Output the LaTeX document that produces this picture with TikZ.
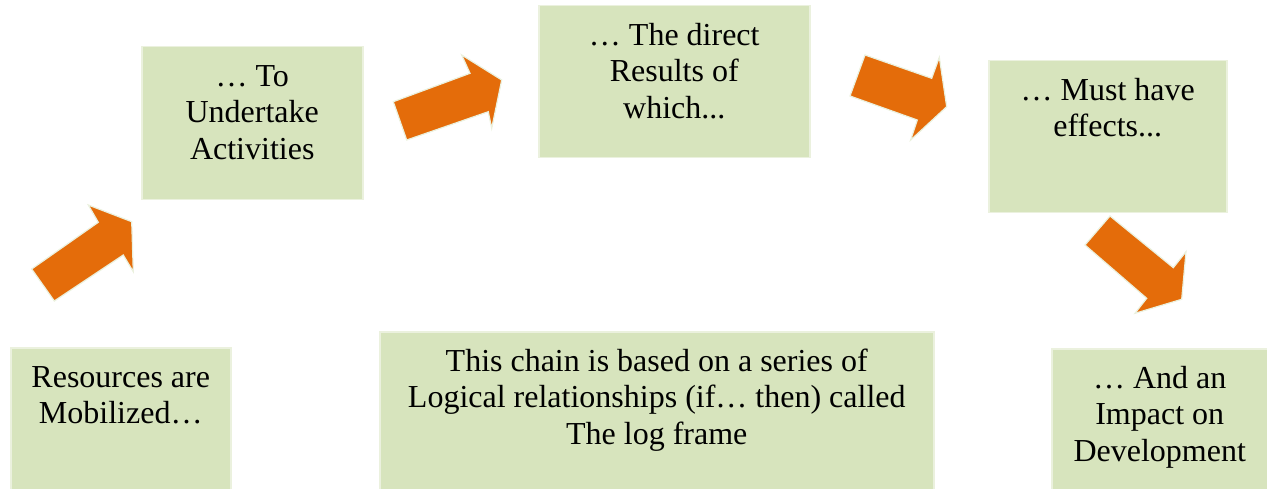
\documentclass[tikz,border=0pt]{standalone}
\usepackage{fontspec}
\setmainfont{Liberation Serif}
\definecolor{boxfill}{HTML}{D7E4BD}
\definecolor{boxline}{HTML}{EBF1DE}
\definecolor{arrowfill}{HTML}{E46C0A}
\begin{document}
\begin{tikzpicture}[x=1pt,y=-1pt,
  box/.style={rectangle, fill=boxfill, draw=boxline, line width=1.5pt, inner sep=0pt, anchor=north west},
  txt/.style={anchor=north, align=center, inner sep=0pt, font=\fontsize{32}{36.5}\selectfont},
  blockarrow/.style={fill=arrowfill, draw=boxline, line width=1.2pt, line join=miter}]
\useasboundingbox (0,0) rectangle (1267,489);
\clip (0,0) rectangle (1267,489);
% boxes
\node[box, minimum width=220pt, minimum height=152pt] (b1) at (10,347) {};
\node[box, minimum width=221pt, minimum height=153pt] (b2) at (141,46) {};
\node[box, minimum width=271pt, minimum height=152pt] (b3) at (538,5) {};
\node[box, minimum width=238pt, minimum height=152pt] (b4) at (988,60) {};
\node[box, minimum width=216pt, minimum height=152pt] (b5) at (1051,348) {};
\node[box, minimum width=554pt, minimum height=170pt] (b6) at (379,331) {};
% texts
\node[txt] (t1) at ([yshift=-14.45pt]b1.north) {\strut Resources are\\Mobilized…};
\node[txt] (t2) at ([yshift=-14.45pt]b2.north) {\strut … To\\Undertake\\Activities};
\node[txt] (t3) at ([yshift=-14.45pt]b3.north) {\strut … The direct\\Results of\\which...};
\node[txt] (t4) at ([yshift=-14.45pt]b4.north) {\strut … Must have\\effects...};
\node[txt] (t5) at ([yshift=-14.45pt]b5.north) {\strut … And an\\Impact on\\Development};
\node[txt] (t6) at ([yshift=-14.45pt]b6.north) {\strut This chain is based on a series of\\Logical relationships (if… then) called\\The log frame};
% block arrows
\draw[blockarrow] (31.7,269) -- (98.3,222.3) -- (88.3,205) -- (131.7,221.7) -- (133.3,271.7) -- (123.3,255) -- (54.3,301) -- cycle;
\draw[blockarrow] (393.3,101.7) -- (470,73.3) -- (461.7,55) -- (501.7,80) -- (491.7,128.3) -- (488.3,111.7) -- (406.7,140) -- cycle;
\draw[blockarrow] (865,55) -- (931.7,78.3) -- (939.3,57.3) -- (946.7,106.7) -- (910.7,140) -- (917.3,120) -- (850,96) -- cycle;
\draw[blockarrow] (1110,216) -- (1173.3,267.7) -- (1186,251.7) -- (1181.7,299.3) -- (1135,313.3) -- (1146.7,298.3) -- (1085,245) -- cycle;
\end{tikzpicture}
\end{document}
